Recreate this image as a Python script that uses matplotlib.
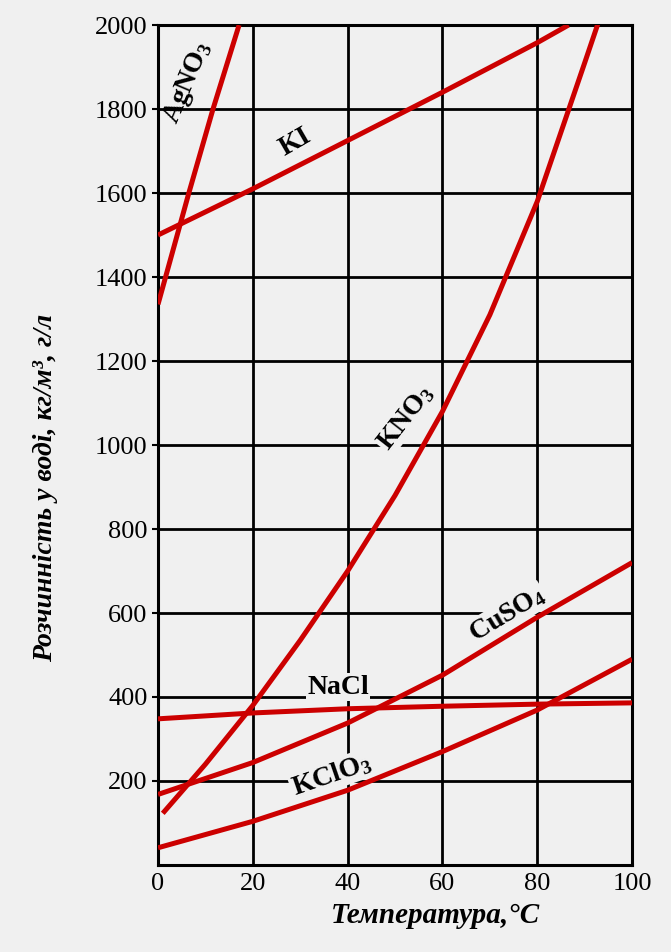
import numpy as np
import matplotlib.pyplot as plt

plt.rcParams['font.family'] = ['Liberation Serif', 'DejaVu Serif']
plt.rcParams['mathtext.fontset'] = 'custom'
plt.rcParams['mathtext.rm'] = 'Liberation Serif:bold'
plt.rcParams['mathtext.it'] = 'Liberation Serif:bold:italic'
plt.rcParams['mathtext.bf'] = 'Liberation Serif:bold'

# temperature (°C) / solubility (g/l)
agno3_t = [0, 6.5, 11.6, 17.1]
agno3 = [1335, 1600, 1800, 2000]
ki_t = [0, 20, 40, 60, 80, 86.6]
ki = [1500, 1610, 1725, 1840, 1958, 2000]
kno3_t = [1, 10, 20, 30, 40, 50, 60, 70, 80, 90, 93]
kno3 = [123, 240, 380, 535, 700, 880, 1080, 1310, 1580, 1910, 2010]
cuso4_t = [0, 20, 40, 60, 80, 100]
cuso4 = [168, 244, 338, 452, 590, 720]
nacl_t = [0, 20, 40, 60, 80, 100]
nacl = [348, 362, 372, 378, 383, 386]
kclo3_t = [0, 20, 40, 60, 80, 100]
kclo3 = [41, 104, 178, 270, 369, 490]

x_ticks = [0, 20, 40, 60, 80, 100]
y_ticks = [200, 400, 600, 800, 1000, 1200, 1400, 1600, 1800, 2000]

bg = '#f0f0f0'
red = '#cc0000'

fig = plt.figure(figsize=(6.71, 9.52), dpi=100, facecolor=bg)
ax = fig.add_axes([0.2355, 0.0914, 0.7065, 0.8823], facecolor=bg)

ax.set_xlim(0, 100)
ax.set_ylim(0, 2000)
ax.set_xticks(x_ticks)
ax.set_yticks(y_ticks)
ax.grid(True, color='black', linewidth=2.0)
ax.set_axisbelow(True)
for s in ax.spines.values():
    s.set_linewidth(2.2)
ax.tick_params(axis='both', labelsize=19, width=1.5, length=4, colors='black')
ax.tick_params(axis='x', length=0, pad=6)

for t, v in [(agno3_t, agno3), (ki_t, ki), (kno3_t, kno3),
             (cuso4_t, cuso4), (nacl_t, nacl), (kclo3_t, kclo3)]:
    ax.plot(t, v, color=red, linewidth=3.6, solid_capstyle='butt', zorder=3)

# labels sit under the red lines but hide the grid behind them
box = dict(facecolor=bg, edgecolor='none', pad=1)
lab = dict(fontsize=20, fontweight='bold', ha='center', va='center', zorder=2.5)
ax.text(6.4, 1862, 'AgNO$_3$', rotation=67, **lab)
ax.text(29.0, 1720, 'KI', rotation=30, **lab)
ax.text(52.2, 1066, 'KNO$_3$', rotation=52, bbox=box, **lab)
ax.text(73.6, 596, 'CuSO$_4$', rotation=31, bbox=box, **lab)
ax.text(38, 423, 'NaCl', rotation=0, bbox=box, **lab)
ax.text(36.5, 214, 'KClO$_3$', rotation=19, bbox=box, **lab)

ax.set_xlabel('Температура,°C', fontsize=21, fontweight='bold', style='italic')
ax.xaxis.set_label_coords(0.586, -0.06)
ax.xaxis.label.set_va('center')
ax.set_ylabel('Розчинність у воді, кг/м³, г/л', fontsize=20, fontweight='bold',
              style='italic')
ax.yaxis.set_label_coords(-0.238, 0.449)
ax.yaxis.label.set_va('center')

fig.savefig('out.png', dpi=100, facecolor=bg)
